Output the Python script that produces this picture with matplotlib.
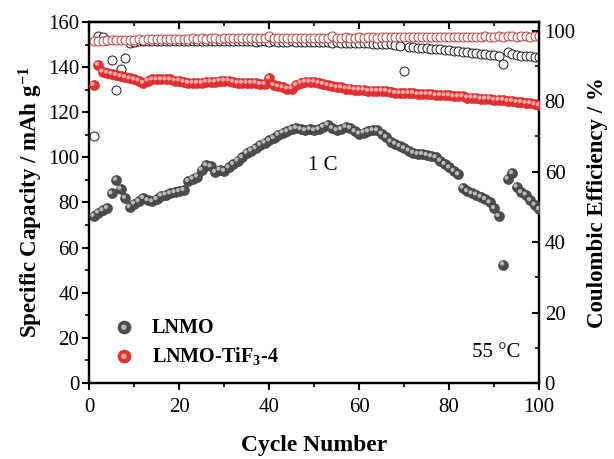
import matplotlib
matplotlib.use("Agg")
import matplotlib.pyplot as plt
from matplotlib.transforms import offset_copy
from matplotlib.ticker import MultipleLocator
from matplotlib.legend_handler import HandlerTuple

plt.rcParams['font.family'] = ['Liberation Serif', 'DejaVu Serif']
plt.rcParams['mathtext.fontset'] = 'custom'
plt.rcParams['mathtext.rm'] = 'Liberation Serif'
plt.rcParams['mathtext.bf'] = 'Liberation Serif:bold'
plt.rcParams['mathtext.it'] = 'Liberation Serif:italic'

cycles = list(range(1, 101))

cap_lnmo = [74.0, 75.5, 76.5, 77.5, 84.0, 90.0, 86.0, 82.0, 78.0, 79.5,
            80.5, 82.0, 81.0, 80.5, 81.5, 83.0, 83.5, 84.0, 84.5, 85.0,
            85.5, 89.5, 90.5, 91.5, 94.5, 96.5, 96.0, 93.5, 94.5, 94.0,
            95.5, 97.0, 98.5, 100.0, 102.0, 103.0, 104.0, 105.5, 106.5, 107.5,
            108.5, 110.0, 111.0, 111.5, 112.5, 113.0, 112.5, 112.0, 112.5, 112.0,
            112.5, 113.5, 114.5, 113.0, 112.0, 112.5, 113.5, 113.0, 111.5, 110.5,
            111.0, 111.5, 112.0, 112.0, 110.5, 109.0, 107.0, 106.0, 105.0, 104.0,
            103.0, 102.0, 101.5, 101.5, 101.0, 100.5, 100.0, 98.5, 97.0, 95.5,
            94.0, 92.5, 86.5, 85.0, 84.0, 83.5, 82.5, 81.5, 80.0, 77.5,
            74.0, 52.5, 90.5, 93.0, 87.0, 84.5, 83.5, 81.0, 79.0, 77.0]

cap_tif = [132.0, 141.0, 138.0, 137.5, 137.0, 136.5, 136.0, 135.5, 135.0, 134.5,
           134.0, 133.0, 134.0, 134.5, 134.5, 134.5, 134.5, 134.5, 134.0, 134.0,
           133.5, 133.0, 133.0, 133.0, 133.0, 133.5, 133.5, 133.5, 134.0, 134.0,
           134.0, 133.5, 133.0, 133.0, 133.0, 133.0, 133.0, 132.5, 132.5, 135.0,
           132.0, 131.5, 131.0, 130.5, 130.5, 132.0, 133.0, 133.5, 133.5, 133.5,
           133.0, 132.5, 132.0, 131.5, 131.0, 131.0, 130.5, 130.5, 130.0, 130.0,
           130.0, 129.5, 129.5, 129.5, 129.5, 129.5, 129.0, 128.5, 128.5, 128.5,
           128.5, 128.5, 128.0, 128.0, 128.0, 128.0, 127.5, 127.5, 127.5, 127.5,
           127.0, 127.0, 127.0, 126.5, 126.5, 126.5, 126.0, 126.0, 126.0, 125.5,
           125.5, 125.5, 125.0, 125.0, 124.5, 124.5, 124.0, 124.0, 123.5, 123.0]

ce_lnmo = [70.0, 98.5, 98.3, 97.5, 91.8, 83.3, 89.0, 92.3, 96.5, 96.8,
           97.0, 97.0, 97.1, 97.0, 97.2, 97.1, 97.0, 97.2, 97.1, 97.0,
           97.1, 97.0, 97.2, 97.0, 97.1, 97.2, 97.0, 97.1, 97.0, 97.2,
           97.1, 97.0, 97.1, 97.0, 97.2, 97.0, 96.9, 97.1, 97.0, 96.9,
           97.0, 96.9, 96.8, 96.9, 97.0, 96.8, 96.9, 96.8, 96.7, 96.8,
           96.8, 96.7, 96.8, 96.6, 96.7, 96.6, 96.5, 96.6, 96.5, 96.4,
           96.5, 96.4, 96.3, 96.3, 96.2, 96.2, 96.1, 96.0, 95.8, 88.5,
           95.5, 95.4, 95.2, 95.1, 95.0, 94.9, 94.8, 94.7, 94.6, 94.5,
           94.3, 94.2, 94.0, 93.9, 93.8, 93.6, 93.5, 93.3, 93.1, 93.0,
           92.7, 90.5, 94.0, 93.3, 93.0, 92.9, 92.8, 92.7, 92.6, 92.5]

ce_tif = [97.0, 97.1, 97.2, 97.3, 97.3, 97.4, 97.4, 97.5, 97.5, 97.5,
          97.6, 97.5, 97.6, 97.6, 97.7, 97.6, 97.7, 97.6, 97.7, 97.7,
          97.6, 97.7, 97.8, 97.7, 97.8, 97.7, 97.8, 97.8, 97.7, 97.8,
          97.8, 97.9, 97.8, 97.9, 97.8, 97.9, 97.9, 97.8, 97.9, 98.5,
          97.9, 97.9, 97.8, 97.9, 98.0, 97.9, 98.0, 97.9, 98.0, 97.9,
          98.0, 98.0, 97.9, 98.6, 98.0, 98.0, 98.1, 98.0, 98.0, 98.1,
          98.0, 98.1, 98.1, 98.0, 98.1, 98.1, 98.2, 98.1, 98.1, 98.2,
          98.1, 98.2, 98.1, 98.2, 98.2, 98.3, 98.2, 98.2, 98.3, 98.2,
          98.3, 98.2, 98.3, 98.3, 98.2, 98.3, 98.3, 98.4, 98.3, 98.3,
          98.4, 98.3, 98.4, 98.4, 98.3, 98.4, 98.4, 98.3, 98.4, 98.4]

labels = ['LNMO', 'LNMO-TiF$_{\\mathbf{3}}$-4']

fig = plt.figure(figsize=(6.14, 4.59), dpi=100)
ax = fig.add_axes([0.145, 0.1656, 0.733, 0.7866])
ax2 = ax.twinx()

# CE (open circles) on right axis
ax2.scatter(cycles, ce_lnmo, s=42, facecolors='white', edgecolors='#1a1a1a',
            linewidths=0.7, zorder=2)
ax2.scatter(cycles, ce_tif, s=42, facecolors='white', edgecolors='#c03c3c',
            linewidths=0.7, zorder=3)

# Capacity (shaded spheres) on left axis
hl = offset_copy(ax.transData, fig=fig, x=-0.8, y=0.8, units='points')
b1 = ax.scatter(cycles, cap_lnmo, s=52, color='#4e4e4e', edgecolors='#3a3a3a',
                linewidths=0.4, zorder=3)
h1 = ax.scatter(cycles, cap_lnmo, s=9, color='#b8b8b8', edgecolors='none',
                transform=hl, zorder=4)
b2 = ax.scatter(cycles, cap_tif, s=52, color='#e63232', edgecolors='#d02020',
                linewidths=0.4, zorder=3)
h2 = ax.scatter(cycles, cap_tif, s=9, color='#f6a6a6', edgecolors='none',
                transform=hl, zorder=4)

ax.set_zorder(ax2.get_zorder() + 1)
ax.patch.set_visible(False)

ax.set_xlim(0, 100)
ax.set_ylim(0, 160)
ax2.set_ylim(0, 102.5)

ax.xaxis.set_major_locator(MultipleLocator(20))
ax.xaxis.set_minor_locator(MultipleLocator(10))
ax.yaxis.set_major_locator(MultipleLocator(20))
ax.yaxis.set_minor_locator(MultipleLocator(10))
ax2.yaxis.set_major_locator(MultipleLocator(20))
ax2.yaxis.set_minor_locator(MultipleLocator(10))

for a in (ax, ax2):
    for sp in a.spines.values():
        sp.set_linewidth(1.6)

ax.tick_params(axis='both', which='major', direction='out', length=5, width=1.5,
               labelsize=15, pad=2)
ax.tick_params(axis='x', which='major', pad=6)
ax.tick_params(axis='both', which='minor', direction='out', length=3, width=1.2)
ax.tick_params(axis='x', which='both', top=False)
ax2.tick_params(axis='y', which='major', direction='in', length=5, width=1.5,
                labelsize=15, pad=4)
ax2.tick_params(axis='y', which='minor', direction='in', length=3, width=1.2)

secx = ax.secondary_xaxis('top')
secx.xaxis.set_major_locator(MultipleLocator(20))
secx.xaxis.set_minor_locator(MultipleLocator(10))
secx.tick_params(axis='x', which='major', direction='in', length=5, width=1.5,
                 labelbottom=False, labeltop=False)
secx.tick_params(axis='x', which='minor', direction='in', length=3, width=1.2)
secx.spines['top'].set_linewidth(1.6)

ax.set_xlabel('Cycle Number', fontsize=17, fontweight='bold', labelpad=13)
ax.set_ylabel('Specific Capacity / mAh g$^{\\mathbf{-1}}$', fontsize=16.5,
              fontweight='bold', labelpad=2)
ax2.set_ylabel('Coulombic Efficiency / %', fontsize=16.5, fontweight='bold',
               labelpad=8)

ax.text(52, 96.5, '1 C', fontsize=15, ha='center', va='center', zorder=5)
ax.text(90.5, 13.5, '55 \u00b0C', fontsize=15, ha='center', va='center', zorder=5)

leg = ax.legend([(b1, h1), (b2, h2)], labels,
                handler_map={tuple: HandlerTuple(ndivide=1, pad=0)},
                loc='lower left', bbox_to_anchor=(0.028, 0.012), frameon=False,
                prop={'weight': 'bold', 'size': 14.5}, handlelength=1.0,
                handletextpad=0.9, labelspacing=0.35, borderaxespad=0.2,
                markerscale=1.3)

fig.savefig('out.png', dpi=100)
